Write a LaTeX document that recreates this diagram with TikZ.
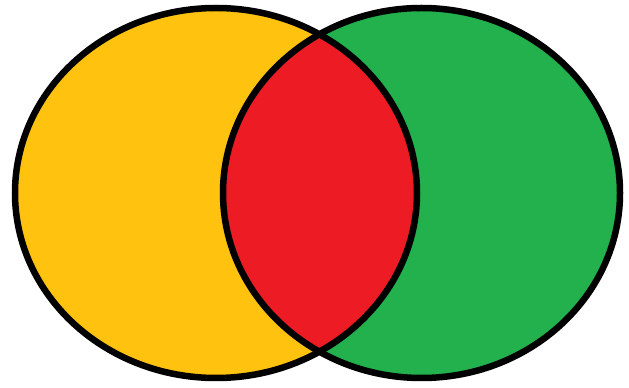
\documentclass[tikz,border=0pt]{standalone}
\usepackage{tikz}
\definecolor{setyellow}{HTML}{FFC20E}
\definecolor{setgreen}{HTML}{22B14C}
\definecolor{setred}{HTML}{ED1C24}

\begin{document}
\begin{tikzpicture}[
  x=1pt, y=1pt,
  outline/.style={draw=black, line width=6.5pt}
]
\useasboundingbox (0,0) rectangle (629,388);
% the two sets
\fill[setyellow] (216,195) ellipse [x radius=201, y radius=185];
\fill[setgreen] (421.5,195) ellipse [x radius=198.5, y radius=185];
% overlap
\begin{scope}
  \clip (216,195) ellipse [x radius=201, y radius=185];
  \fill[setred] (421.5,195) ellipse [x radius=198.5, y radius=185];
\end{scope}
\draw[outline] (216,195) ellipse [x radius=201, y radius=185];
\draw[outline] (421.5,195) ellipse [x radius=198.5, y radius=185];
\end{tikzpicture}
\end{document}
